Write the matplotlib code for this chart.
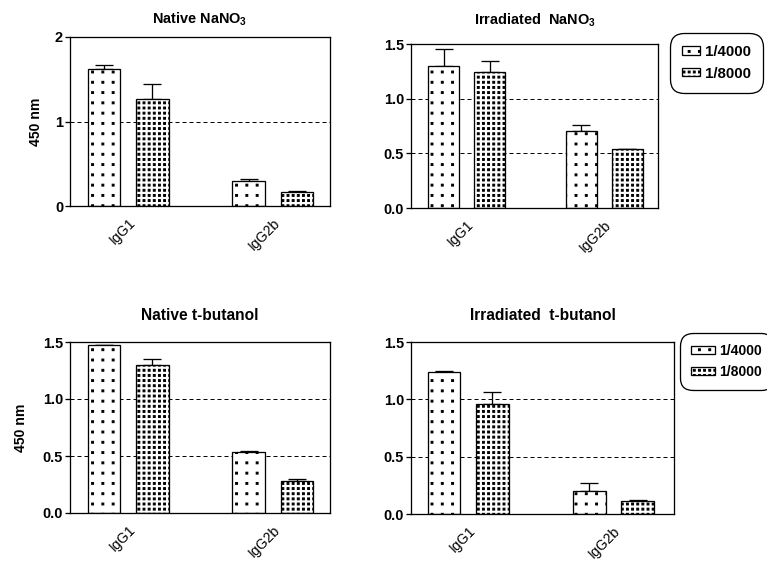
import matplotlib
matplotlib.use("Agg")
import matplotlib.pyplot as plt
import matplotlib.hatch as mhatch
from matplotlib.path import Path
import numpy as np

plt.rcParams['font.family'] = ['Liberation Sans', 'DejaVu Sans']
plt.rcParams['mathtext.default'] = 'regular'
plt.rcParams['hatch.linewidth'] = 1.0

categories = ['IgG1', 'IgG2b']
dilutions = ['1/4000', '1/8000']

titles = ['Native NaNO$_3$', 'Irradiated  NaNO$_3$', 'Native t-butanol', 'Irradiated  t-butanol']

native_nano3_4000 = [1.62, 0.30]
native_nano3_8000 = [1.27, 0.17]
native_nano3_err_4000 = [0.05, 0.02]
native_nano3_err_8000 = [0.17, 0.01]

irr_nano3_4000 = [1.30, 0.70]
irr_nano3_8000 = [1.24, 0.54]
irr_nano3_err_4000 = [0.15, 0.06]
irr_nano3_err_8000 = [0.10, 0.0]

native_tbut_4000 = [1.47, 0.535]
native_tbut_8000 = [1.30, 0.28]
native_tbut_err_4000 = [0.0, 0.01]
native_tbut_err_8000 = [0.05, 0.02]

irr_tbut_4000 = [1.24, 0.20]
irr_tbut_8000 = [0.96, 0.11]
irr_tbut_err_4000 = [0.01, 0.07]
irr_tbut_err_8000 = [0.10, 0.01]

panels = [
    (native_nano3_4000, native_nano3_8000, native_nano3_err_4000, native_nano3_err_8000),
    (irr_nano3_4000, irr_nano3_8000, irr_nano3_err_4000, irr_nano3_err_8000),
    (native_tbut_4000, native_tbut_8000, native_tbut_err_4000, native_tbut_err_8000),
    (irr_tbut_4000, irr_tbut_8000, irr_tbut_err_4000, irr_tbut_err_8000),
]

W, H = 767, 561
DPI = 72


class SquareDotGrid(mhatch.HatchPatternBase):
    """Square grid of small square dots ('.' sparse, '..' dense)."""
    def __init__(self, hatch, density):
        c = hatch.count('.')
        self.n = 7 * c
        rect = Path.unit_rectangle()
        self.shape_vertices = rect.vertices
        self.shape_codes = rect.codes
        self.num_shapes = (self.n + 1) ** 2 if self.n else 0
        self.num_vertices = self.num_shapes * len(self.shape_vertices)

    def set_vertices_and_codes(self, vertices, codes):
        size = 1.9 / 72.0
        sv = (self.shape_vertices - 0.5) * size
        vp = vertices.reshape((self.num_shapes, len(sv), 2))
        cp = codes.reshape((self.num_shapes, len(sv)))
        k = 0
        pos = np.linspace(0, 1, self.n + 1)
        for r in pos:
            for c in pos:
                vp[k] = sv + [c, r]
                cp[k] = self.shape_codes
                k += 1


mhatch._hatch_types[:] = [t for t in mhatch._hatch_types
                          if t is not mhatch.SmallFilledCircles] + [SquareDotGrid]

fig = plt.figure(figsize=(W / DPI, H / DPI), dpi=DPI)


def rect(l, r, t, b):
    return [l / W, 1 - b / H, (r - l) / W, (b - t) / H]


positions = [rect(70, 330, 37, 206), rect(411, 658, 44, 208),
             rect(70, 330, 342, 513), rect(411, 674, 342, 514)]
xlims = [(-0.403, 1.396), (-0.403, 1.390), (-0.403, 1.396), (-0.394, 1.417)]
ymaxes = [2.0, 1.5, 1.5, 1.5]
yticks = [[0, 1, 2], [0, 0.5, 1.0, 1.5], [0, 0.5, 1.0, 1.5], [0, 0.5, 1.0, 1.5]]
yticklabels = [['0', '1', '2'], ['0.0', '0.5', '1.0', '1.5'],
               ['0.0', '0.5', '1.0', '1.5'], ['0.0', '0.5', '1.0', '1.5']]
dashes_at = [[1.0], [0.5, 1.0], [0.5, 1.0], [0.5, 1.0]]
title_pads = [13, 19, 22, 22]
title_sizes = [14.5, 14.5, 15.5, 15.5]
ylabel_pads = [12, None, 15, None]
hatches = ['.', '..']

x = np.arange(len(categories))
off = 0.167
bw = 0.226

for i, (v4, v8, e4, e8) in enumerate(panels):
    ax = fig.add_axes(positions[i])
    for yl in dashes_at[i]:
        ax.axhline(yl, color='black', lw=1.0, ls=(0, (4, 3)), zorder=0)
    for vals, errs, sign, h, lab in [(v4, e4, -1, hatches[0], dilutions[0]),
                                     (v8, e8, 1, hatches[1], dilutions[1])]:
        ax.bar(x + sign * off, vals, bw, color='white', edgecolor='black',
               linewidth=1.3, hatch=h, label=lab, zorder=2)
        ax.errorbar(x + sign * off, vals, yerr=[np.zeros(len(vals)), errs],
                    fmt='none', ecolor='black', elinewidth=1.3, capsize=9,
                    capthick=1.3, zorder=1)
    ax.set_xlim(*xlims[i])
    ax.set_ylim(0, ymaxes[i])
    ax.set_yticks(yticks[i])
    ax.set_yticklabels(yticklabels[i], fontsize=14.5, fontweight='bold')
    ax.set_xticks(x)
    ax.set_xticklabels(categories, rotation=45, ha='right', rotation_mode='anchor',
                       fontsize=14)
    ax.tick_params(axis='x', length=0, pad=10)
    ax.tick_params(axis='y', length=5, width=1.3, direction='out', pad=2)
    for s in ax.spines.values():
        s.set_linewidth(1.3)
    ax.set_title(titles[i], fontsize=title_sizes[i], fontweight='bold', pad=title_pads[i])
    if ylabel_pads[i] is not None:
        ax.set_ylabel('450 nm', fontsize=14, fontweight='bold', labelpad=ylabel_pads[i])
    if i == 1:
        leg_anchor, hl, fs = (670 / W, 1 - 33 / H), 1.2, 15
    elif i == 3:
        leg_anchor, hl, fs = (680 / W, 1 - 333 / H), 1.7, 14
    else:
        leg_anchor = None
    if leg_anchor is not None:
        leg = ax.legend(loc='upper left', bbox_to_anchor=leg_anchor,
                        bbox_transform=fig.transFigure, frameon=True,
                        fancybox=True, edgecolor='black', framealpha=1,
                        prop={'weight': 'bold', 'size': fs},
                        handlelength=hl, handleheight=0.5, handletextpad=0.3,
                        borderpad=0.8, labelspacing=0.5, borderaxespad=0)
        leg.get_frame().set_linewidth(1.3)
        leg.get_frame().set_boxstyle('round', pad=0, rounding_size=0.9)

fig.savefig('out.png', dpi=DPI)
